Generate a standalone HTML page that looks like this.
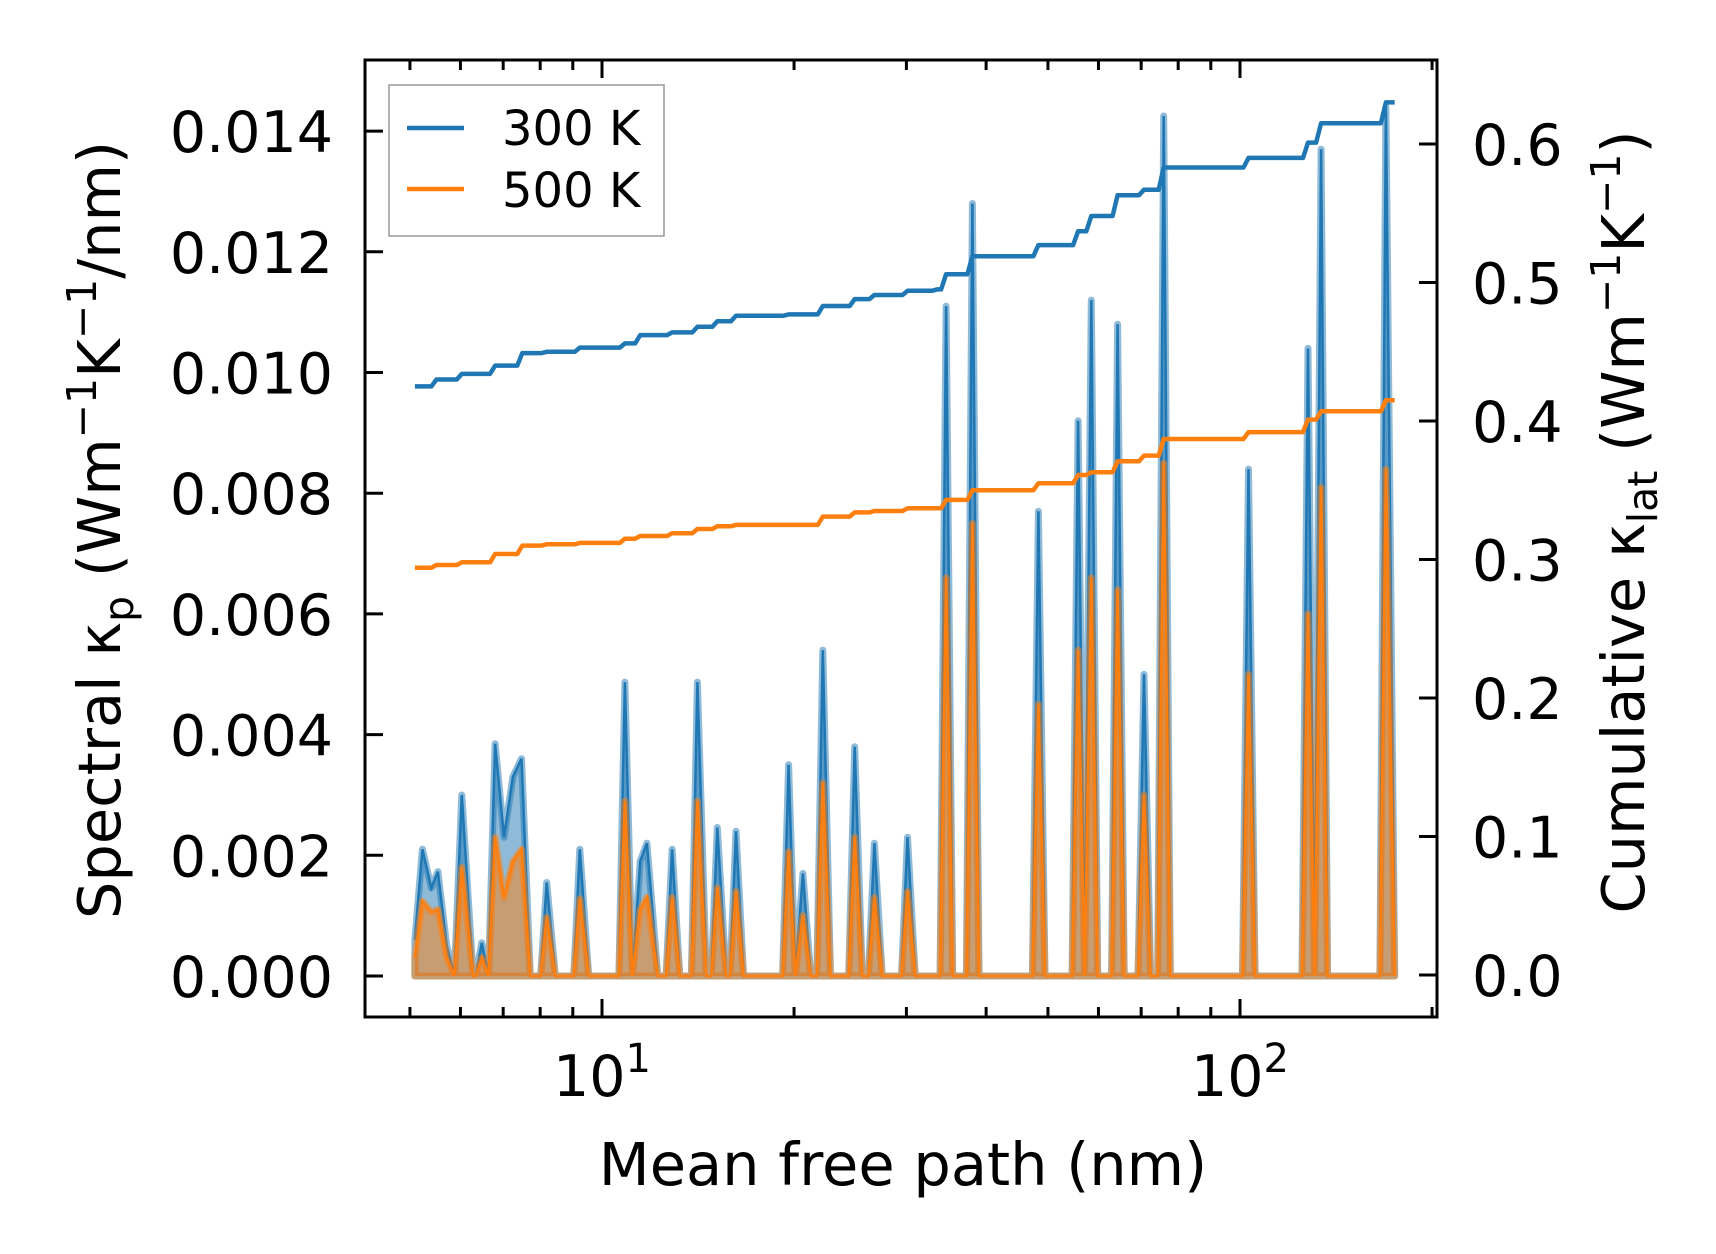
<!DOCTYPE html>
<html><head><meta charset="utf-8"><style>
html,body{margin:0;padding:0;background:#fff;}
svg{display:block;font-family:"DejaVu Sans","Liberation Sans",sans-serif;}
</style></head><body>
<svg id="chart" width="1716" height="1254" viewBox="0 0 1716 1254">
<g id="marks"></g>
<g id="axes"></g>
</svg>
<script>
const mfp = [5.09,5.23,5.40,5.53,5.71,5.87,6.03,6.28,6.48,6.64,6.80,7.02,7.25,7.48,7.72,8.19,8.45,9.23,9.53,10.86,11.16,11.48,11.76,12.23,12.88,13.24,14.11,14.57,15.16,15.65,16.22,16.67,19.61,20.09,20.65,21.24,22.19,22.81,24.89,25.59,26.73,27.49,30.12,30.97,34.62,35.45,38.07,38.98,48.31,49.48,55.74,57.08,58.46,59.84,64.30,65.85,70.71,72.42,75.94,77.77,103.1,105.6,127.8,130.9,134.0,137.2,169.3,174.8];
const spec300 = [0.0006,0.0021,0.00146,0.00173,0.0005,0,0.003,0,0.00055,0,0.00385,0.0023,0.0033,0.0036,0,0.00155,0,0.0021,0,0.00487,0,0.0019,0.0022,0,0.0021,0,0.00487,0,0.00246,0,0.0024,0,0.0035,0,0.0017,0,0.0054,0,0.0038,0,0.0022,0,0.0023,0,0.0111,0,0.0128,0,0.0077,0,0.0092,0,0.0112,0,0.0108,0,0.005,0,0.01425,0,0.0084,0,0.0104,0,0.0137,0,0.0144,0];
const spec500 = [0.0003,0.00124,0.00106,0.0011,0.0003,0,0.0018,0,0.0003,0,0.0023,0.0013,0.0019,0.0021,0,0.00097,0,0.00128,0,0.0029,0,0.0011,0.0013,0,0.0013,0,0.0029,0,0.00146,0,0.0014,0,0.00206,0,0.001,0,0.0032,0,0.0023,0,0.0013,0,0.0014,0,0.0066,0,0.0075,0,0.0045,0,0.0054,0,0.0066,0,0.0064,0,0.003,0,0.0085,0,0.005,0,0.006,0,0.0081,0,0.0084,0];
const cumX = [5.09,5.5,6.03,6.80,7.5,8.19,9.23,10.86,11.48,12.88,14.11,15.16,16.22,19.61,22.19,24.89,26.73,30.12,33.5,34.62,38.07,48.31,55.74,58.46,64.30,70.71,75.94,103.1,127.8,134.0,169.3,174.8];
const cum300 = [0.425,0.430,0.434,0.440,0.449,0.450,0.453,0.456,0.462,0.464,0.468,0.472,0.476,0.477,0.483,0.488,0.491,0.494,0.495,0.506,0.519,0.527,0.537,0.548,0.563,0.567,0.583,0.590,0.601,0.615,0.630,0.630];
const cum500 = [0.294,0.296,0.298,0.304,0.310,0.311,0.312,0.315,0.317,0.319,0.322,0.324,0.325,0.325,0.331,0.334,0.335,0.337,0.337,0.343,0.350,0.355,0.361,0.363,0.371,0.375,0.387,0.392,0.401,0.407,0.415,0.415];
const leftTicks = [0,0.002,0.004,0.006,0.008,0.010,0.012,0.014];
const leftLabels = ["0.000","0.002","0.004","0.006","0.008","0.010","0.012","0.014"];
const rightTicks = [0,0.1,0.2,0.3,0.4,0.5,0.6];
const rightLabels = ["0.0","0.1","0.2","0.3","0.4","0.5","0.6"];

const L=365,R=1437,T=60,B=1017;
const X = v => 602 + 638*(Math.log10(v)-1);
const YL = v => 976 - v/0.002*120.7;
const YR = v => 975 - v/0.6*831;
const NS="http://www.w3.org/2000/svg";
function mk(tag, attrs, parent){const e=document.createElementNS(NS,tag);for(const k in attrs)e.setAttribute(k,attrs[k]);parent.appendChild(e);return e;}
const marks=document.getElementById('marks'), axes=document.getElementById('axes');

function specPts(vals){
  const pts=[];
  mfp.forEach((m,i)=>{
    const x=X(m);
    if(i>0 && vals[i-1]===0 && vals[i]>0){
      const px=X(mfp[i-1]);
      if(x-px>8) pts.push([x-6,YL(0)]);
    }
    pts.push([x,YL(vals[i])]);
  });
  return pts;
}
function spectrum(vals,color,name){
  const pts=specPts(vals);
  let d='M'+X(mfp[0]).toFixed(1)+','+YL(0).toFixed(1);
  pts.forEach(p=>{d+=' L'+p[0].toFixed(1)+','+p[1].toFixed(1);});
  d+=' L'+X(mfp[mfp.length-1]).toFixed(1)+','+YL(0).toFixed(1)+' Z';
  const f=mk('path',{d:d,fill:color,'fill-opacity':0.5,stroke:color,'stroke-opacity':0.5,'stroke-width':7,'stroke-linejoin':'round'},marks);
  
  
  let d2='';
  pts.forEach((p,i)=>{d2+=(i?' L':'M')+p[0].toFixed(1)+','+p[1].toFixed(1);});
  const l=mk('path',{d:d2,fill:'none',stroke:color,'stroke-width':2.5},marks);
  
  
}
spectrum(spec300,'#1f77b4','spectral-300k');
spectrum(spec500,'#ff7f0e','spectral-500k');

function cum(vals,color,name){
  let d='';
  cumX.forEach((m,i)=>{
    if(i===0) d='M'+X(m).toFixed(1)+','+YR(vals[i]).toFixed(1);
    else { d+=' L'+(X(m)-5).toFixed(1)+','+YR(vals[i-1]).toFixed(1)+' L'+X(m).toFixed(1)+','+YR(vals[i]).toFixed(1); }
  });
  const p=mk('path',{d:d,fill:'none',stroke:color,'stroke-width':4.5,'stroke-linejoin':'round'},marks);
  
  
}
cum(cum300,'#1f77b4','cumulative-300k');
cum(cum500,'#ff7f0e','cumulative-500k');

const fr=mk('rect',{x:L,y:T,width:R-L,height:B-T,fill:'none',stroke:'#000','stroke-width':3},axes);


leftTicks.forEach((v,i)=>{
  const y=YL(v);
  mk('line',{x1:L,x2:L+18,y1:y,y2:y,stroke:'#000','stroke-width':3},axes);
  const t=mk('text',{x:333,y:y+21,'text-anchor':'end','font-size':57},axes);
  t.textContent=leftLabels[i];
  
  
});
rightTicks.forEach((v,i)=>{
  const y=YR(v);
  mk('line',{x1:R-18,x2:R,y1:y,y2:y,stroke:'#000','stroke-width':3},axes);
  const t=mk('text',{x:1472,y:y+21,'font-size':57},axes);
  t.textContent=rightLabels[i];
  
  
});
[5,6,7,8,9,10,20,30,40,50,60,70,80,90,100,200].forEach(v=>{
  const major=(v===10||v===100); const len=major?18:10; const x=X(v);
  mk('line',{x1:x,x2:x,y1:B,y2:B-len,stroke:'#000','stroke-width':3},axes);
  mk('line',{x1:x,x2:x,y1:T,y2:T+len,stroke:'#000','stroke-width':3},axes);
});
[[10,'1'],[100,'2']].forEach(([v,e])=>{
  const t=mk('text',{x:X(v),y:1096,'text-anchor':'middle','font-size':57},axes);
  t.innerHTML='10<tspan dy="-24" font-size="40">'+e+'</tspan>';
  
  
});
</script>
<svg style="position:absolute;left:0;top:0" width="1716" height="1254">
<text x="903" y="1185" text-anchor="middle" font-size="59" font-family="DejaVu Sans, Liberation Sans, sans-serif">Mean free path (nm)</text>
<text transform="translate(120,530) rotate(-90)" text-anchor="middle" font-size="59" font-family="DejaVu Sans, Liberation Sans, sans-serif">Spectral κ<tspan dy="13" font-size="41">p</tspan><tspan dy="-13"> (Wm</tspan><tspan dy="-24" font-size="41">−1</tspan><tspan dy="24">K</tspan><tspan dy="-24" font-size="41">−1</tspan><tspan dy="24">/nm)</tspan></text>
<text transform="translate(1644,522) rotate(-90)" text-anchor="middle" font-size="59" font-family="DejaVu Sans, Liberation Sans, sans-serif">Cumulative κ<tspan dy="13" font-size="41">lat</tspan><tspan dy="-13"> (Wm</tspan><tspan dy="-24" font-size="41">−1</tspan><tspan dy="24">K</tspan><tspan dy="-24" font-size="41">−1</tspan><tspan dy="24">)</tspan></text>
<g>
<rect x="389" y="85" width="275" height="151" fill="#fff" fill-opacity="0.8" stroke="#999" stroke-width="1.5"/>
<line x1="407" x2="464" y1="128" y2="128" stroke="#1f77b4" stroke-width="4.5"/>
<text x="502" y="145" font-size="48" font-family="DejaVu Sans, Liberation Sans, sans-serif">300 K</text>
<line x1="407" x2="464" y1="189" y2="189" stroke="#ff7f0e" stroke-width="4.5"/>
<text x="502" y="207" font-size="48" font-family="DejaVu Sans, Liberation Sans, sans-serif">500 K</text>
</g>
</svg>
</body></html>
